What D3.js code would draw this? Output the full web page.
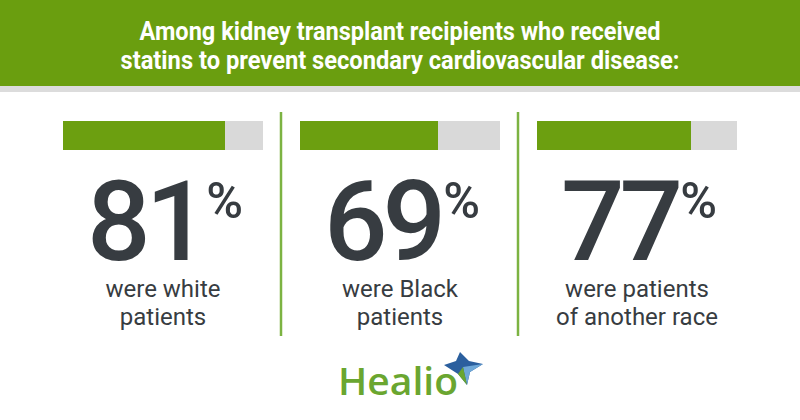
<!DOCTYPE html>
<html>
<head>
<meta charset="utf-8">
<script src="https://cdn.jsdelivr.net/npm/d3@7"></script>
<style>
html,body{margin:0;padding:0;background:#fff;}
svg{display:block;}
</style>
</head>
<body>
<svg id="chart" width="800" height="420"></svg>
<script>
// ---- data ----
const titleLines = ["Among kidney transplant recipients who received", "statins to prevent secondary cardiovascular disease:"];
const categories = ["white", "Black", "another"];
const values = [81, 69, 77];
const labelLine1 = ["were white", "were Black", "were patients"];
const labelLine2 = ["patients", "patients", "of another race"];
const maxValue = 100;

const svg = d3.select("#chart");
const W = 800, H = 420;

// header
svg.append("rect").attr("x",0).attr("y",0).attr("width",W).attr("height",86).attr("fill","#6a9e0f");
svg.append("rect").attr("x",0).attr("y",86).attr("width",W).attr("height",6).attr("fill","#dcdcdc");
const titleW = [521, 559];
svg.selectAll("text.title").data(titleLines).enter().append("text")
  .attr("class","title")
  .attr("x", 400).attr("y",(d,i)=>40+i*29)
  .attr("text-anchor","middle")
  .attr("font-family","'Liberation Sans Narrow', 'Roboto', sans-serif")
  .attr("font-weight","bold").attr("font-size",25)
  .attr("fill","#fff")
  .attr("textLength",(d,i)=>titleW[i]).attr("lengthAdjust","spacingAndGlyphs")
  .text(d=>d);

// scales
const xc = d3.scalePoint().domain(categories).range([163, 637]).padding(0);
const barW = d3.scaleLinear().domain([0, maxValue]).range([0, 200]);
const barY = 121, barH = 29;

// dividers
const divX = [281, 518];
svg.selectAll("line.div").data(divX).enter().append("line")
  .attr("x1",d=>d).attr("x2",d=>d).attr("y1",112).attr("y2",336)
  .attr("stroke","#7cb342").attr("stroke-width",2.5);

const g = svg.selectAll("g.panel").data(categories).enter().append("g").attr("class","panel");

g.append("rect")
  .attr("x", d=>xc(d)-barW(maxValue)/2).attr("y",barY)
  .attr("width", barW(maxValue)).attr("height",barH).attr("fill","#d9d9d9");
g.append("rect")
  .attr("x", d=>xc(d)-barW(maxValue)/2).attr("y",barY)
  .attr("width", (d,i)=>barW(values[i])).attr("height",barH).attr("fill","#6c9f10");

const num = g.append("text")
  .attr("x", d=>xc(d)+2).attr("y",260)
  .attr("text-anchor","middle")
  .attr("font-family","Roboto, 'Noto Sans', sans-serif")
  .attr("font-weight",500)
  .attr("fill","#373c41");
num.append("tspan").attr("font-size",112).attr("letter-spacing",-5).text((d,i)=>values[i]);
num.append("tspan").attr("font-size",50).attr("dx",2).attr("dy",-42).text("%");

g.append("text")
  .attr("x", d=>xc(d)).attr("y",297)
  .attr("text-anchor","middle")
  .attr("font-family","Roboto, 'Noto Sans', sans-serif")
  .attr("font-size",24).attr("fill","#373c41")
  .text((d,i)=>labelLine1[i]);
g.append("text")
  .attr("x", d=>xc(d)).attr("y",325)
  .attr("text-anchor","middle")
  .attr("font-family","Roboto, 'Noto Sans', sans-serif")
  .attr("font-size",24).attr("fill","#373c41")
  .text((d,i)=>labelLine2[i]);

// logo
svg.append("text")
  .attr("x",338).attr("y",395)
  .attr("font-family","'Open Sans', sans-serif")
  .attr("font-weight",600).attr("font-size",38)
  .attr("fill","#6aa630")
  .attr("textLength",120).attr("lengthAdjust","spacingAndGlyphs")
  .text("Healio");
const star = svg.append("g");
star.append("path")
  .attr("d","M460,352 L469,361 L483,364 L470,372 L467,385 L458,374 L444,365 L456,361 Z")
  .attr("fill","#2b5f9e");
star.append("path")
  .attr("d","M463,367 L483,364 L470,372 L467,385 Z")
  .attr("fill","#6fa8d8");
star.append("path")
  .attr("d","M463,367 L467,385 L458,374 Z")
  .attr("fill","#6aa630");
</script>
</body>
</html>
